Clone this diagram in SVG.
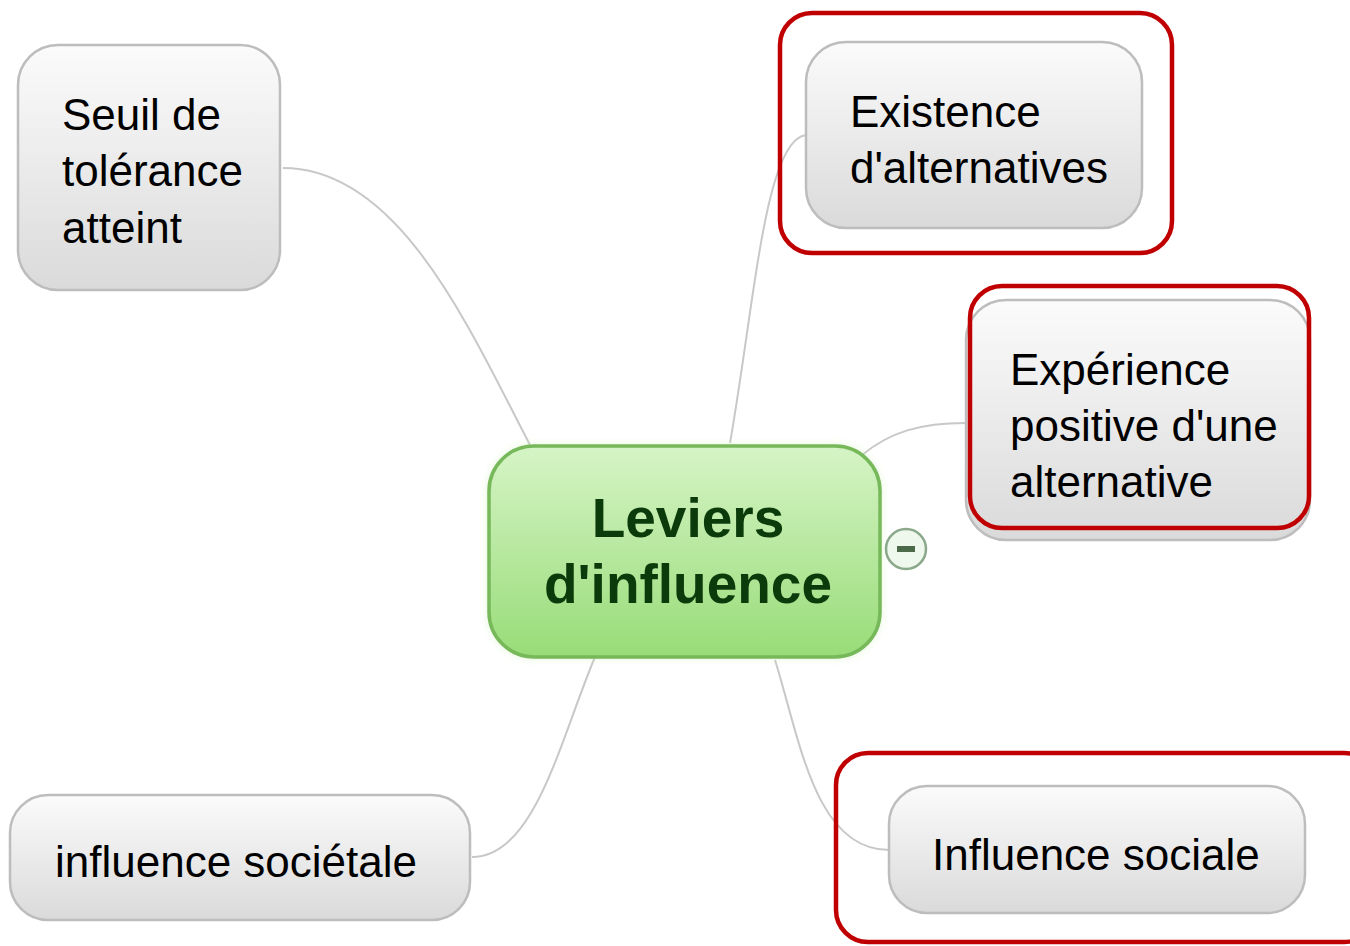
<svg xmlns="http://www.w3.org/2000/svg" width="1350" height="946" viewBox="0 0 1350 946">
<style>
.node{fill:url(#gray);stroke:#bdbdbd;stroke-width:2.5}
.t{font-family:"Liberation Sans",Arial,sans-serif;font-size:44px;fill:#000}
.c{fill:none;stroke:#c8c8c8;stroke-width:2}
.hl{fill:none;stroke:#c00000;stroke-width:4.5}
.ct{font-family:"Liberation Sans",Arial,sans-serif;font-size:55px;font-weight:bold;fill:#0b3a0b;text-anchor:middle}
</style>
<defs>
<linearGradient id="gray" x1="0" y1="0" x2="0" y2="1">
<stop offset="0" stop-color="#fbfbfb"/><stop offset="1" stop-color="#dadada"/>
</linearGradient>
<linearGradient id="green" x1="0" y1="0" x2="0" y2="1">
<stop offset="0" stop-color="#d6f4c6"/><stop offset="1" stop-color="#98dc78"/>
</linearGradient>
<filter id="glow" x="-10%" y="-10%" width="120%" height="120%">
<feGaussianBlur stdDeviation="5"/>
</filter>
</defs>
<rect width="1350" height="946" fill="#fff"/>
<g id="connectors">
<path class="c" d="M530,445 C470,330 400,168 283,168"/>
<path class="c" d="M730,443 C755,300 765,140 806,135"/>
<path class="c" d="M862,455 C890,432 920,423 966,423"/>
<path class="c" d="M595,657 C560,740 535,857 472,857"/>
<path class="c" d="M775,660 C800,740 815,850 889,850"/>
</g>
<g id="n-seuil">
<rect class="node" x="18" y="45" width="262" height="245" rx="40"/>
<text class="t" x="62" y="130">Seuil de</text>
<text class="t" x="62" y="186">tolérance</text>
<text class="t" x="62" y="243">atteint</text>
</g>
<g id="n-existence">
<rect class="node" x="806" y="42" width="336" height="186" rx="40"/>
<text class="t" x="850" y="127">Existence</text>
<text class="t" x="850" y="183">d'alternatives</text>
<rect class="hl" x="780" y="13" width="392" height="240" rx="32"/>
</g>
<g id="n-experience">
<rect class="node" x="966" y="300" width="344" height="240" rx="40"/>
<text class="t" x="1010" y="385">Expérience</text>
<text class="t" x="1010" y="441">positive d'une</text>
<text class="t" x="1010" y="497">alternative</text>
<rect class="hl" x="970" y="286" width="339" height="242" rx="32"/>
</g>
<g id="n-sociale">
<rect class="node" x="889" y="786" width="416" height="127" rx="38"/>
<text class="t" x="932" y="870">Influence sociale</text>
<rect class="hl" x="836" y="753" width="540" height="189" rx="32"/>
</g>
<g id="n-societale">
<rect class="node" x="10" y="795" width="460" height="125" rx="38"/>
<text class="t" x="55" y="877">influence sociétale</text>
</g>
<g id="n-central">
<rect x="489" y="446" width="391" height="211" rx="45" fill="#c8f0b0" opacity="0.7" filter="url(#glow)"/>
<rect x="489" y="446" width="391" height="211" rx="45" fill="url(#green)" stroke="#76b85a" stroke-width="3.5"/>
<text class="ct" x="688" y="537">Leviers</text>
<text class="ct" x="688" y="603">d'influence</text>
</g>
<g id="collapse">
<circle cx="906" cy="549" r="20" fill="#eef8ec" stroke="#8aa88a" stroke-width="2.5"/>
<rect x="897" y="546" width="18" height="6" fill="#4a6a4a"/>
</g>
</svg>
